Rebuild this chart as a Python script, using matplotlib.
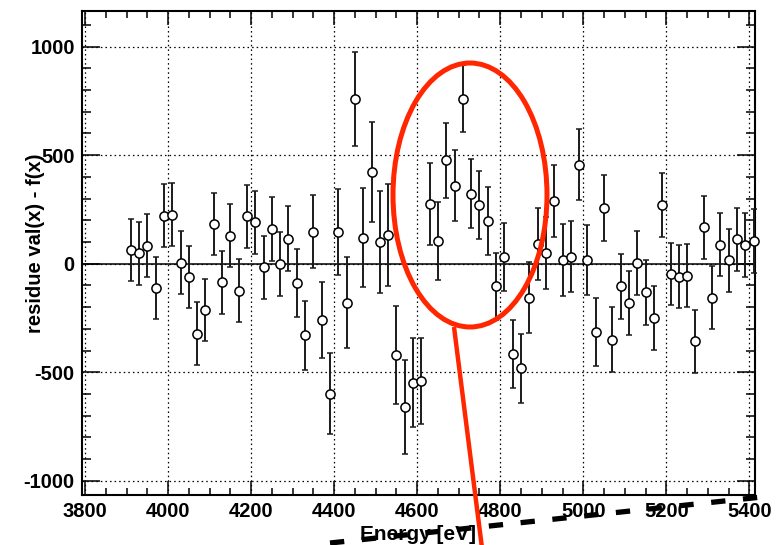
import matplotlib
matplotlib.use("Agg")
import matplotlib.pyplot as plt
from matplotlib import ticker
from matplotlib.patches import Ellipse

plt.rcParams['font.family'] = ['Liberation Sans', 'DejaVu Sans']
plt.rcParams['font.weight'] = 'bold'
plt.rcParams['lines.scale_dashes'] = False
plt.rcParams['axes.unicode_minus'] = False

# energy bins [eV]
energy = [3910, 3930, 3950, 3970, 3990, 4010, 4030, 4050, 4070, 4090,
          4110, 4130, 4150, 4170, 4190, 4210, 4230, 4250, 4270, 4290,
          4310, 4330, 4350, 4370, 4390, 4410, 4430, 4450, 4470, 4490,
          4510, 4530, 4550, 4570, 4590, 4610, 4630, 4650, 4670, 4690,
          4710, 4730, 4750, 4770, 4790, 4810, 4830, 4850, 4870, 4890,
          4910, 4930, 4950, 4970, 4990, 5010, 5030, 5050, 5070, 5090,
          5110, 5130, 5150, 5170, 5190, 5210, 5230, 5250, 5270, 5290,
          5310, 5330, 5350, 5370, 5390, 5410]

# residue val(x) - f(x)
residue = [64, 48, 83, -112, 222, 225, 5, -61, -322, -212,
           183, -85, 128, -124, 218, 191, -16, 160, 0, 116,
           -88, -330, 148, -258, -598, 147, -180, 758, 120, 423,
           99, 131, -421, -659, -547, -539, 276, 105, 477, 359,
           761, 322, 271, 196, -104, 30, -416, -482, -156, 92,
           49, 290, 18, 33, 456, 18, -316, 257, -349, -104,
           -180, 5, -132, -250, 271, -48, -59, -56, -357, 167,
           -156, 88, 16, 113, 86, 105]

# error on residue
error = [144, 145, 144, 144, 145, 145, 145, 145, 144, 144,
         145, 145, 145, 146, 146, 146, 146, 147, 148, 151,
         155, 159, 167, 175, 185, 198, 209, 218, 228, 231,
         234, 234, 226, 216, 207, 199, 189, 179, 172, 164,
         154, 159, 158, 156, 154, 157, 158, 160, 164, 165,
         165, 167, 165, 164, 163, 160, 156, 153, 149, 149,
         148, 148, 148, 146, 147, 144, 144, 145, 144, 145,
         144, 145, 146, 145, 146, 146]

xticks = [3800, 4000, 4200, 4400, 4600, 4800, 5000, 5200, 5400]
yticks = [-1000, -500, 0, 500, 1000]

W, H = 776, 545
fig = plt.figure(figsize=(W / 100, H / 100), dpi=100)
ax = fig.add_axes([81.7 / W, 1 - 495 / H, (755 - 81.7) / W, (495 - 11) / H])

ax.set_xlim(3792, 5413.5)
ax.set_ylim(-1065, 1164)

ax.grid(True, which='major', color='black', linestyle=(0, (1.1, 2.2)), linewidth=0.9)
ax.axhline(0, color='black', linewidth=1.1, zorder=2)

ax.errorbar(energy, residue, yerr=error, fmt='o', color='#1a1a1a',
            ecolor='#1a1a1a', elinewidth=1.4, capsize=1.9, capthick=1.4,
            markersize=6.6, markerfacecolor='white', markeredgecolor='black',
            markeredgewidth=1.1, zorder=3, clip_on=False)

ax.set_xticks(xticks)
ax.set_yticks(yticks)
ax.xaxis.set_minor_locator(ticker.MultipleLocator(50))
ax.yaxis.set_minor_locator(ticker.MultipleLocator(100))
ax.tick_params(which='both', direction='in', top=True, right=True, width=1.1,
               labelsize=14.5, pad=5)
ax.tick_params(axis='x', which='major', length=10)
ax.tick_params(axis='x', which='minor', length=5)
ax.tick_params(axis='y', which='major', length=13)
ax.tick_params(axis='y', which='minor', length=6.5)
for lab in ax.get_xticklabels() + ax.get_yticklabels():
    lab.set_fontweight('bold')
for sp in ax.spines.values():
    sp.set_linewidth(1.5)

fig.text(418 / W, 1 - 540 / H, "Energy [eV]", ha='center', va='baseline',
         fontsize=15, fontweight='bold')
fig.text(36 / W, 1 - 243 / H, "residue val(x) - f(x)", ha='center', va='center',
         rotation=90, fontsize=14.5, fontweight='bold')

# hand-drawn annotation layer in pixel coordinates
ov = fig.add_axes([0, 0, 1, 1])
ov.set_xlim(0, W)
ov.set_ylim(H, 0)
ov.axis('off')
red = '#ff2600'
ov.add_patch(Ellipse((470, 195), 154, 264, fill=False, edgecolor=red, linewidth=3.6))
ov.plot([454, 482], [327, 548], color=red, linewidth=3.2, solid_capstyle='butt')
ov.plot([330, 760], [543.0, 497.2], color='black', linewidth=3.8,
        linestyle=(0, (10.3, 12.7)), dash_capstyle='butt')

fig.savefig("out.png", dpi=100)
